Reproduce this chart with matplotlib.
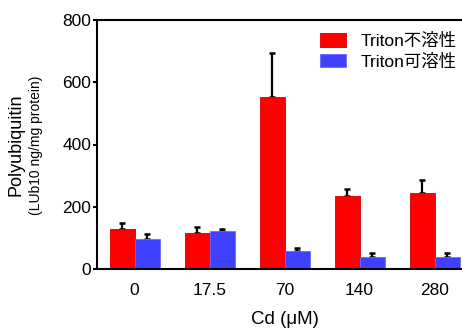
import matplotlib
matplotlib.use('Agg')
import matplotlib.pyplot as plt
import numpy as np

# data
doses = ['0', '17.5', '70', '140', '280']
insoluble = [130, 117, 552, 234, 245]
insoluble_err = [17, 19, 142, 22, 40]
soluble = [96, 122, 58, 40, 37]
soluble_err = [16, 7, 10, 11, 15]
series_labels = ['Triton不溶性', 'Triton可溶性']

RED = '#FF0000'
BLUE = '#4040FF'
FONT = ['Liberation Sans', 'Noto Sans CJK JP', 'DejaVu Sans']

plt.rcParams['font.family'] = FONT

fig = plt.figure(figsize=(4.62, 3.28), dpi=100)
ax = fig.add_axes([97 / 462, 59 / 328, 375 / 462, 249 / 328])

x = np.arange(len(doses))
w = 1 / 3
ax.bar(x - w / 2, insoluble, w, color=RED, edgecolor='#D00000', linewidth=0.6,
       label=series_labels[0], zorder=2)
ax.bar(x + w / 2, soluble, w, color=BLUE, edgecolor='#6A6AFF', linewidth=0.6,
       label=series_labels[1], zorder=2)
ax.errorbar(x - w / 2, insoluble, yerr=[np.zeros(len(x)), insoluble_err], fmt='none',
            ecolor='black', elinewidth=1.6, capsize=2, capthick=1.8, zorder=1)
ax.errorbar(x + w / 2, soluble, yerr=[np.zeros(len(x)), soluble_err], fmt='none',
            ecolor='black', elinewidth=1.6, capsize=2, capthick=1.8, zorder=1)

ax.set_xlim(-0.5, 4.5)
ax.set_ylim(0, 800)
ax.set_yticks([0, 200, 400, 600, 800])
ax.set_xticks(x)
ax.set_xticklabels(doses)

for s in ax.spines.values():
    s.set_linewidth(1.5)
ax.tick_params(axis='y', length=3, width=1.5, pad=1, labelsize=12.5)
ax.tick_params(axis='x', length=0, pad=10, labelsize=12.5)

fig.text(16 / 462, 0.559, 'Polyubiquitin', rotation=90, fontsize=13,
         ha='center', va='center')
fig.text(36 / 462, 0.556, '(LUb10 ng/mg protein)', rotation=90, fontsize=10,
         ha='center', va='center')
fig.text(284.5 / 462, 8 / 328, 'Cd (μM)', fontsize=13.5, ha='center', va='center')

ax.legend(loc='upper left', bbox_to_anchor=(320 / 462, 295 / 328),
          bbox_transform=fig.transFigure, frameon=False, fontsize=12.5,
          handlelength=1.5, handleheight=0.8, handletextpad=0.85,
          labelspacing=0.27, borderpad=0, borderaxespad=0)

fig.savefig('out.png', dpi=100)
